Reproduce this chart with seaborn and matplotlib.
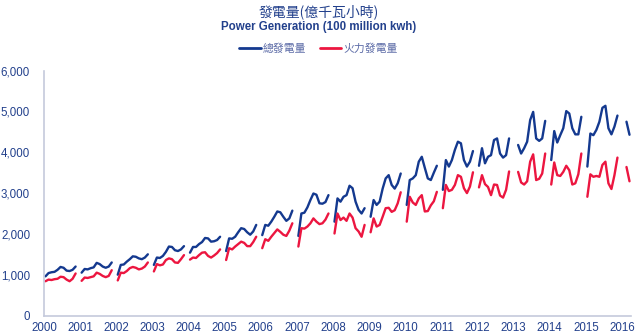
import numpy as np
import pandas as pd
import matplotlib
matplotlib.use("Agg")
import matplotlib.pyplot as plt
import seaborn as sns
from matplotlib.lines import Line2D

# ---- data (100 million kWh), monthly, one segment per year ----
years = list(range(2000, 2017))
first_month = [0, 0, 0, 0, 0, 0, 0, 0, 0, 0, 0, 0, 0, 1, 0, 0, 1]

total = [
    [960, 1040, 1060, 1070, 1120, 1190, 1170, 1100, 1090, 1120, 1200],
    [1050, 1140, 1130, 1160, 1180, 1290, 1260, 1200, 1170, 1200, 1300],
    [1000, 1240, 1250, 1320, 1380, 1450, 1440, 1400, 1380, 1420, 1500],
    [1240, 1420, 1410, 1460, 1560, 1690, 1680, 1600, 1580, 1620, 1700],
    [1540, 1680, 1680, 1750, 1800, 1900, 1890, 1810, 1820, 1850, 1930],
    [1580, 1890, 1880, 1930, 2040, 2140, 2120, 2040, 1980, 2060, 2220],
    [1970, 2220, 2200, 2300, 2420, 2550, 2530, 2420, 2320, 2380, 2570],
    [1950, 2500, 2520, 2650, 2830, 2990, 2960, 2750, 2740, 2780, 2950],
    [2300, 2870, 2790, 2910, 2950, 3180, 3120, 2790, 2590, 2500, 2630],
    [2420, 2830, 2710, 2790, 3110, 3360, 3440, 3200, 3110, 3240, 3480],
    [2710, 3320, 3360, 3440, 3770, 3890, 3620, 3360, 3320, 3500, 3670],
    [3080, 3810, 3650, 3810, 4060, 4260, 4220, 3810, 3650, 3770, 4030],
    [3670, 4100, 3730, 3890, 3930, 4300, 4340, 3970, 3870, 3930, 4340],
    [4180, 3970, 4100, 4260, 4790, 4990, 4340, 4280, 4340, 4770],
    [3810, 4520, 4240, 4420, 4590, 5010, 4950, 4590, 4440, 4440, 4870],
    [3650, 4460, 4420, 4550, 4750, 5090, 5140, 4590, 4440, 4630, 4900],
    [4750, 4430],
]

thermal = [
    [840, 880, 870, 890, 900, 950, 940, 880, 840, 900, 1030],
    [850, 930, 920, 940, 960, 1050, 1020, 970, 940, 970, 1110],
    [860, 1050, 1040, 1090, 1160, 1190, 1170, 1130, 1150, 1200, 1300],
    [1080, 1260, 1230, 1250, 1360, 1400, 1380, 1300, 1290, 1380, 1480],
    [1370, 1420, 1410, 1480, 1540, 1550, 1460, 1420, 1470, 1530, 1620],
    [1360, 1650, 1620, 1690, 1750, 1810, 1780, 1700, 1700, 1800, 1930],
    [1650, 1870, 1830, 1930, 2020, 2110, 2050, 1980, 1950, 2080, 2260],
    [1690, 2140, 2130, 2180, 2260, 2380, 2300, 2240, 2260, 2350, 2500],
    [2010, 2500, 2340, 2400, 2320, 2500, 2400, 2140, 2060, 1930, 2220],
    [2040, 2380, 2180, 2220, 2420, 2630, 2640, 2540, 2580, 2750, 3020],
    [2300, 2910, 2770, 2710, 2870, 2950, 2550, 2560, 2700, 2800, 3030],
    [2630, 3200, 3050, 3080, 3200, 3440, 3400, 3120, 3000, 3160, 3510],
    [3140, 3440, 3220, 3150, 2950, 3210, 3200, 2940, 2890, 3080, 3530],
    [3520, 3260, 3210, 3290, 3770, 3950, 3320, 3350, 3480, 3970],
    [3210, 3750, 3440, 3420, 3520, 3670, 3560, 3210, 3240, 3460, 3970],
    [2910, 3460, 3400, 3420, 3400, 3690, 3770, 3240, 3100, 3440, 3870],
    [3640, 3290],
]

series_names = ["總發電量", "火力發電量"]
tick_years = list(range(2000, 2017))

# ---- build long table ----
rows = []
for name, data in zip(series_names, [total, thermal]):
    for yr, m0, vals in zip(years, first_month, data):
        for i, v in enumerate(vals):
            rows.append({"x": yr + (m0 + i + 0.5) / 12.0, "value": v,
                         "series": name, "year": yr})
df = pd.DataFrame(rows)

sns.set_theme(style="white")
plt.rcParams["font.family"] = ["Liberation Sans", "Noto Sans CJK TC", "DejaVu Sans"]

BLUE = "#14398f"
RED = "#ec1640"
TXT = "#22408c"
AXC = "#c5cadc"

fig = plt.figure(figsize=(6.37, 3.34), dpi=100)
ax = fig.add_axes([44 / 637, 1 - 315.5 / 334, (631 - 44) / 637, (315.5 - 70.7) / 334])

sns.lineplot(data=df, x="x", y="value", hue="series", units="year",
             estimator=None, palette={series_names[0]: BLUE, series_names[1]: RED},
             linewidth=1.7, ax=ax, legend=False)

ax.set_xlim(2000, 2016.25)
ax.set_ylim(0, 6000)
ax.set_xticks(tick_years)
ax.set_xticklabels([str(y) for y in tick_years])
ax.set_yticks(np.arange(0, 6001, 1000))
ax.set_yticklabels([f"{int(v):,}" for v in np.arange(0, 6001, 1000)])
ax.set_xlabel("")
ax.set_ylabel("")

for s in ["top", "right"]:
    ax.spines[s].set_visible(False)
for s in ["left", "bottom"]:
    ax.spines[s].set_color(AXC)
    ax.spines[s].set_linewidth(1.2)
ax.tick_params(axis="both", colors=AXC, labelcolor=TXT, labelsize=8.3,
               length=3.5, width=1.0, direction="out")
ax.tick_params(axis="y", pad=6.5)
ax.tick_params(axis="x", pad=1.5)
ax.grid(False)

# titles
fig.text(0.5, 1 - 12 / 334, "發電量(億千瓦小時)", ha="center", va="center",
         fontsize=10, color=TXT, family=["Noto Sans CJK TC", "DejaVu Sans"])
fig.text(0.5, 1 - 27 / 334, "Power Generation (100 million kwh)", ha="center",
         va="center", fontsize=8.3, fontweight="bold", color=TXT,
         family=["Liberation Sans", "DejaVu Sans"])

handles = [Line2D([], [], color=BLUE, linewidth=2),
           Line2D([], [], color=RED, linewidth=2)]
leg = fig.legend(handles, series_names, loc="center", bbox_to_anchor=(0.5, 1 - 49 / 334),
                 ncol=2, frameon=False, handlelength=2.0,
                 handletextpad=0.2, columnspacing=1.2,
                 prop={"family": ["Noto Sans CJK TC", "DejaVu Sans"], "size": 7.8})
for t in leg.get_texts():
    t.set_color("#5b6aa6")

fig.savefig("out.png", dpi=100)
